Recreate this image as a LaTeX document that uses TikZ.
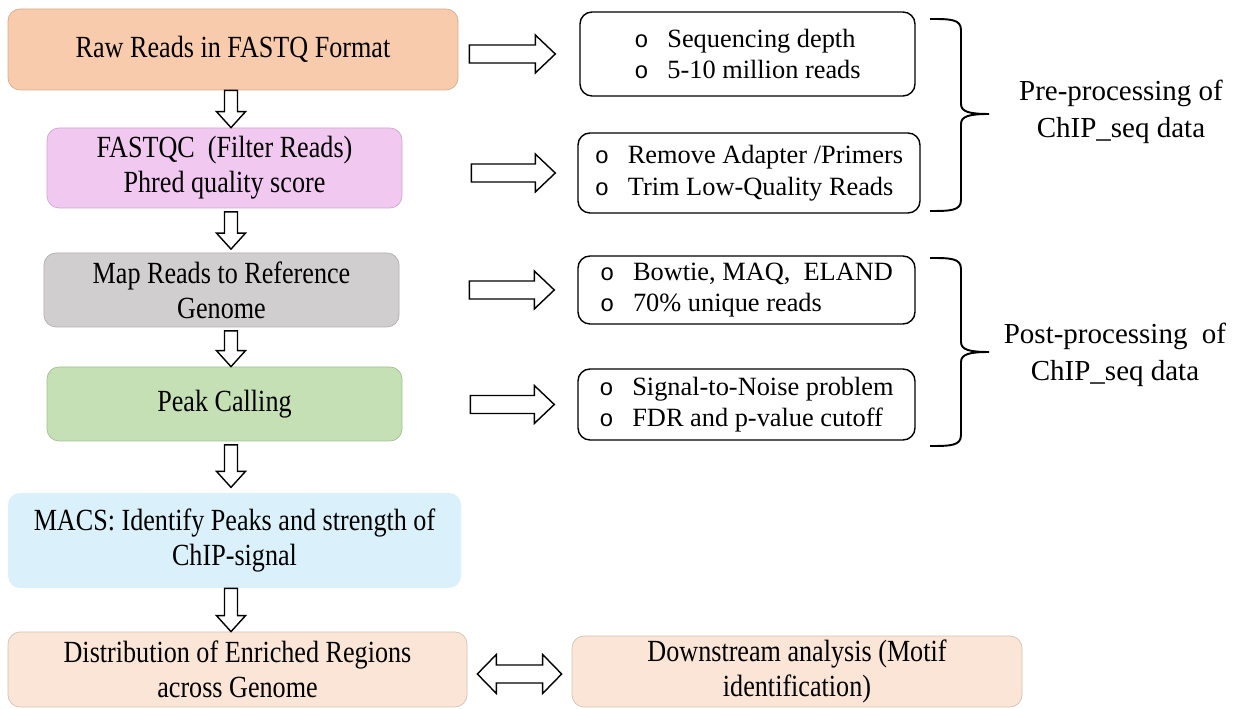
\documentclass[tikz,border=0pt]{standalone}
\usepackage{fontspec}
\setmainfont{Liberation Serif}
\newfontfamily\narrowserif{Liberation Serif}[FakeStretch=0.85]
\newfontfamily\bulletfont{Liberation Mono}
\usepackage{tikz}
\usetikzlibrary{calc}
\definecolor{rawfill}{RGB}{248,203,173}
\definecolor{qcfill}{RGB}{240,200,240}
\definecolor{mapfill}{RGB}{208,206,206}
\definecolor{peakfill}{RGB}{197,224,180}
\definecolor{macsfill}{RGB}{218,240,250}
\definecolor{distfill}{RGB}{251,229,214}

\newcommand{\itm}[1]{\makebox[0.66cm][l]{\bulletfont\fontsize{13.5}{13}\selectfont o}#1}

\begin{document}
\begin{tikzpicture}[
  stage/.style={rounded corners=0.24cm, fill=#1, draw=#1!85!black, line width=0.4pt,
    align=center, inner sep=0pt, font=\narrowserif\fontsize{17.5}{20}\selectfont},
  note/.style={rounded corners=0.24cm, draw=black, line width=0.8pt, align=left,
    inner sep=0pt, font=\fontsize{15}{18}\selectfont},
  grouptext/.style={align=center, font=\fontsize{16.5}{21}\selectfont},
  blk/.style={draw=black, line width=0.8pt, fill=white},
  blockd/.style={blk, to path={let \p1=(\tikztostart), \p2=(\tikztotarget) in
    (\x1-0.13cm,\y1) -- (\x1-0.13cm,\y2+0.32cm) -- (\x1-0.29cm,\y2+0.32cm) -- (\x1,\y2)
    -- (\x1+0.29cm,\y2+0.32cm) -- (\x1+0.13cm,\y2+0.32cm) -- (\x1+0.13cm,\y1) -- cycle}},
  blockr/.style={blk, to path={let \p1=(\tikztostart), \p2=(\tikztotarget) in
    (\x1,\y2-0.18cm) -- (\x2-0.4cm,\y2-0.18cm) -- (\x2-0.4cm,\y2-0.38cm) -- (\x2,\y2)
    -- (\x2-0.4cm,\y2+0.38cm) -- (\x2-0.4cm,\y2+0.18cm) -- (\x1,\y2+0.18cm) -- cycle}},
  blocklr/.style={blk, to path={let \p1=(\tikztostart), \p2=(\tikztotarget) in
    (\x1,\y1) -- (\x1+0.38cm,\y1+0.39cm) -- (\x1+0.38cm,\y1+0.18cm) -- (\x2-0.38cm,\y1+0.18cm)
    -- (\x2-0.38cm,\y1+0.39cm) -- (\x2,\y1) -- (\x2-0.38cm,\y1-0.39cm) -- (\x2-0.38cm,\y1-0.18cm)
    -- (\x1+0.38cm,\y1-0.18cm) -- (\x1+0.38cm,\y1-0.39cm) -- cycle}},
  brc/.style={line width=1.1pt}]
  \useasboundingbox (0,0) rectangle (24.88,14.18);

  % pipeline on the left
  \node[stage=rawfill, minimum width=9cm, minimum height=1.62cm] (raw) at (4.66,13.19) {Raw Reads in FASTQ Format};
  \node[stage=qcfill, minimum width=7.1cm, minimum height=1.6cm] (fastqc) at (4.49,10.82) {FASTQC\ \ (Filter Reads)\\Phred quality score};
  \node[stage=mapfill, minimum width=7.1cm, minimum height=1.48cm] (map) at (4.43,8.38) {Map Reads to Reference\\Genome};
  \node[stage=peakfill, minimum width=7.1cm, minimum height=1.48cm] (peak) at (4.49,6.10) {Peak Calling};
  \node[stage=macsfill, draw=none, minimum width=9.06cm, minimum height=1.9cm] (macs) at (4.69,3.37) {MACS: Identify Peaks and strength of\\ChIP-signal};
  \node[stage=distfill, minimum width=9.18cm, minimum height=1.5cm] (distrib) at (4.75,0.79) {Distribution of Enriched Regions\\across Genome};
  \node[stage=distfill, minimum width=9cm, minimum height=1.42cm] (down) at (15.94,0.75) {Downstream analysis (Motif\\identification)};

  % notes on the right
  \node[note, minimum width=6.7cm, minimum height=1.68cm] (r1) at (14.95,13.10) {\itm{Sequencing depth}\\\itm{5-10 million reads}};
  \node[note, minimum width=6.84cm, minimum height=1.6cm] (r2) at (14.98,10.72) {\itm{Remove Adapter /Primers}\\\itm{Trim Low-Quality Reads}};
  \node[note, minimum width=6.74cm, minimum height=1.36cm] (r3) at (14.93,8.38) {\itm{Bowtie, MAQ,\ \ ELAND}\\\itm{70\% unique reads}};
  \node[note, minimum width=6.74cm, minimum height=1.42cm] (r4) at (14.93,6.09) {\itm{Signal-to-Noise problem}\\\itm{FDR and p-value cutoff}};

  \node[grouptext] (pre) at (22.42,11.94) {Pre-processing of\\ChIP\_seq data};
  \node[grouptext] (post) at (22.30,7.08) {Post-processing\ \ of\\ChIP\_seq data};

  % hollow arrows
  \coordinate (axis) at (4.62,0);
  \draw[blockd] (raw.south -| axis) to (fastqc.north -| axis);
  \draw[blockd] ([yshift=-2pt]fastqc.south -| axis) to ([yshift=2pt]map.north -| axis);
  \draw[blockd] ([yshift=-2pt]map.south -| axis) to (peak.north -| axis);
  \draw[blockd] ([yshift=-2pt]peak.south -| axis) to ([yshift=3pt]macs.north -| axis);
  \draw[blockd] (macs.south -| axis) to (distrib.north -| axis);
  \draw[blockr] ([xshift=0.22cm]raw.east) to ([xshift=-0.48cm]r1.west);
  \draw[blockr] ([xshift=1.38cm]fastqc.east) to ([xshift=-0.44cm]r2.west);
  \draw[blockr] ([xshift=1.4cm]map.east) to ([xshift=-0.46cm]r3.west);
  \draw[blockr] ([xshift=1.36cm]peak.east) to ([xshift=-0.46cm]r4.west);
  \draw[blocklr] ([shift={(0.2,-0.09)}]distrib.east) to ([xshift=-0.2cm]down.west);

  % braces
  \foreach \yt/\ym/\yb in {13.8/11.9/9.96, 9.02/7.14/5.26}
    \draw[brc] (18.6,\yt) .. controls (19.0,\yt) and (19.22,\yt) .. (19.22,\yt-0.22) -- (19.22,\ym+0.2)
      .. controls (19.22,\ym+0.04) and (19.4,\ym) .. (19.78,\ym)
      .. controls (19.4,\ym) and (19.22,\ym-0.04) .. (19.22,\ym-0.2) -- (19.22,\yb+0.22)
      .. controls (19.22,\yb) and (19.0,\yb) .. (18.6,\yb);
\end{tikzpicture}
\end{document}
